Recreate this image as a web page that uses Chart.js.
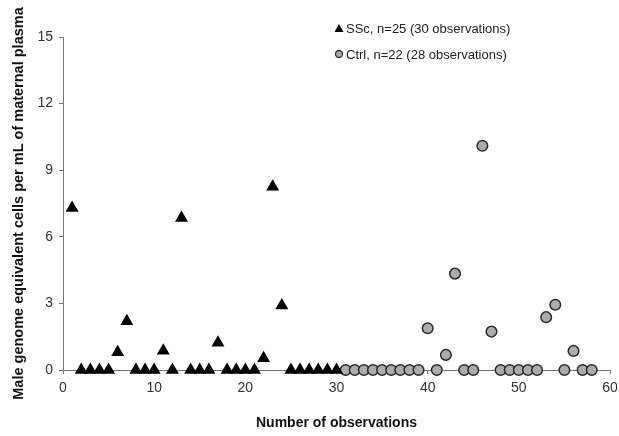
<!DOCTYPE html>
<html>
<head>
<meta charset="utf-8">
<script src="https://cdn.jsdelivr.net/npm/chart.js@4.4.0/dist/chart.umd.min.js"></script>
<style>
  html, body { margin: 0; padding: 0; background: #fff; }
  #wrap { width: 619px; height: 436px; }
</style>
</head>
<body>
<div id="wrap"><canvas id="myChart" width="619" height="436"></canvas></div>
<script>
// --- Data ---
const sscObs = [1, 2, 3, 4, 5, 6, 7, 8, 9, 10, 11, 12, 13, 14, 15, 16, 17, 18, 19, 20, 21, 22, 23, 24, 25, 26, 27, 28, 29, 30];
const sscValues = [7.3, 0, 0, 0, 0, 0.8, 2.2, 0, 0, 0, 0.87, 0, 6.85, 0, 0, 0, 1.23, 0, 0, 0, 0, 0.53, 8.25, 2.9, 0, 0, 0, 0, 0, 0];
const ctrlObs = [31, 32, 33, 34, 35, 36, 37, 38, 39, 40, 41, 42, 43, 44, 45, 46, 47, 48, 49, 50, 51, 52, 53, 54, 55, 56, 57, 58];
const ctrlValues = [0, 0, 0, 0, 0, 0, 0, 0, 0, 1.88, 0, 0.68, 4.34, 0, 0, 10.1, 1.73, 0, 0, 0, 0, 0, 2.38, 2.94, 0, 0.86, 0, 0];
const xTicks = [0, 10, 20, 30, 40, 50, 60];
const yTicks = [0, 3, 6, 9, 12, 15];
const seriesLabels = ['SSc, n=25 (30 observations)', 'Ctrl, n=22 (28 observations)'];

const toPoints = (xs, ys) => xs.map((x, i) => ({ x: x, y: ys[i] }));

// --- Legend drawn inside the plot, top right ---
const insideLegend = {
  id: 'insideLegend',
  afterDraw(chart) {
    const c = chart.ctx;
    c.save();
    c.font = '13px "Liberation Sans", Arial, sans-serif';
    c.textBaseline = 'middle';
    const rows = [29, 55];
    chart.data.datasets.forEach((ds, i) => {
      const y = rows[i];
      const x = 339;
      if (ds.pointStyle === 'triangle') {
        c.fillStyle = '#000';
        c.beginPath();
        c.moveTo(x, y - 5);
        c.lineTo(x + 4.5, y + 3);
        c.lineTo(x - 4.5, y + 3);
        c.closePath();
        c.fill();
      } else {
        c.fillStyle = '#aaa';
        c.strokeStyle = '#333';
        c.lineWidth = 1.3;
        c.beginPath();
        c.arc(x, y - 1, 3.5, 0, Math.PI * 2);
        c.fill();
        c.stroke();
      }
      c.fillStyle = '#222';
      c.fillText(ds.label, 346, y);
    });
    c.restore();
  }
};

const ctx = document.getElementById('myChart').getContext('2d');

let chart = new Chart(ctx, {
  type: 'scatter',
  data: {
    datasets: [
      {
        label: seriesLabels[0],
        data: toPoints(sscObs, sscValues),
        pointStyle: 'triangle',
        pointRadius: 7.5,
        backgroundColor: '#000',
        borderColor: '#000',
        borderWidth: 0,
        clip: false
      },
      {
        label: seriesLabels[1],
        data: toPoints(ctrlObs, ctrlValues),
        pointStyle: 'circle',
        pointRadius: 5.3,
        backgroundColor: '#acacac',
        borderColor: '#2a2a2a',
        borderWidth: 1.5,
        clip: false
      }
    ]
  },
  options: {
    responsive: false,
    animation: false,
    layout: { padding: { top: 37, right: 0, left: 0, bottom: 0 } },
    plugins: {
      legend: { display: false },
      tooltip: { enabled: false }
    },
    scales: {
      x: {
        type: 'linear',
        min: 0,
        max: 60,
        afterBuildTicks: s => { s.ticks = xTicks.map(v => ({ value: v })); },
        afterFit: s => { s.height = 66; s.paddingRight = 9; },
        border: { color: '#777', width: 1 },
        grid: { drawOnChartArea: false, drawTicks: true, tickLength: 4, color: '#777' },
        ticks: { color: '#333', font: { family: '"Liberation Sans", Arial', size: 14 }, padding: 6 },
        title: {
          display: true,
          text: 'Number of observations',
          color: '#111',
          font: { family: '"Liberation Sans", Arial', size: 14, weight: 'bold' },
          padding: { top: 12, bottom: 4 }
        }
      },
      y: {
        type: 'linear',
        min: 0,
        max: 15,
        afterBuildTicks: s => { s.ticks = yTicks.map(v => ({ value: v })); },
        afterFit: s => { s.width = 63; },
        border: { color: '#777', width: 1 },
        grid: { drawOnChartArea: false, drawTicks: true, tickLength: 4, color: '#777' },
        ticks: { color: '#333', font: { family: '"Liberation Sans", Arial', size: 14 }, padding: 6 },
        title: {
          display: true,
          text: 'Male genome equivalent cells per mL of maternal plasma',
          color: '#111',
          font: { family: '"Liberation Sans", Arial', size: 14.5, weight: 'bold' },
          padding: { top: 10, bottom: 0 }
        }
      }
    }
  },
  plugins: [insideLegend]
});
</script>
</body>
</html>
